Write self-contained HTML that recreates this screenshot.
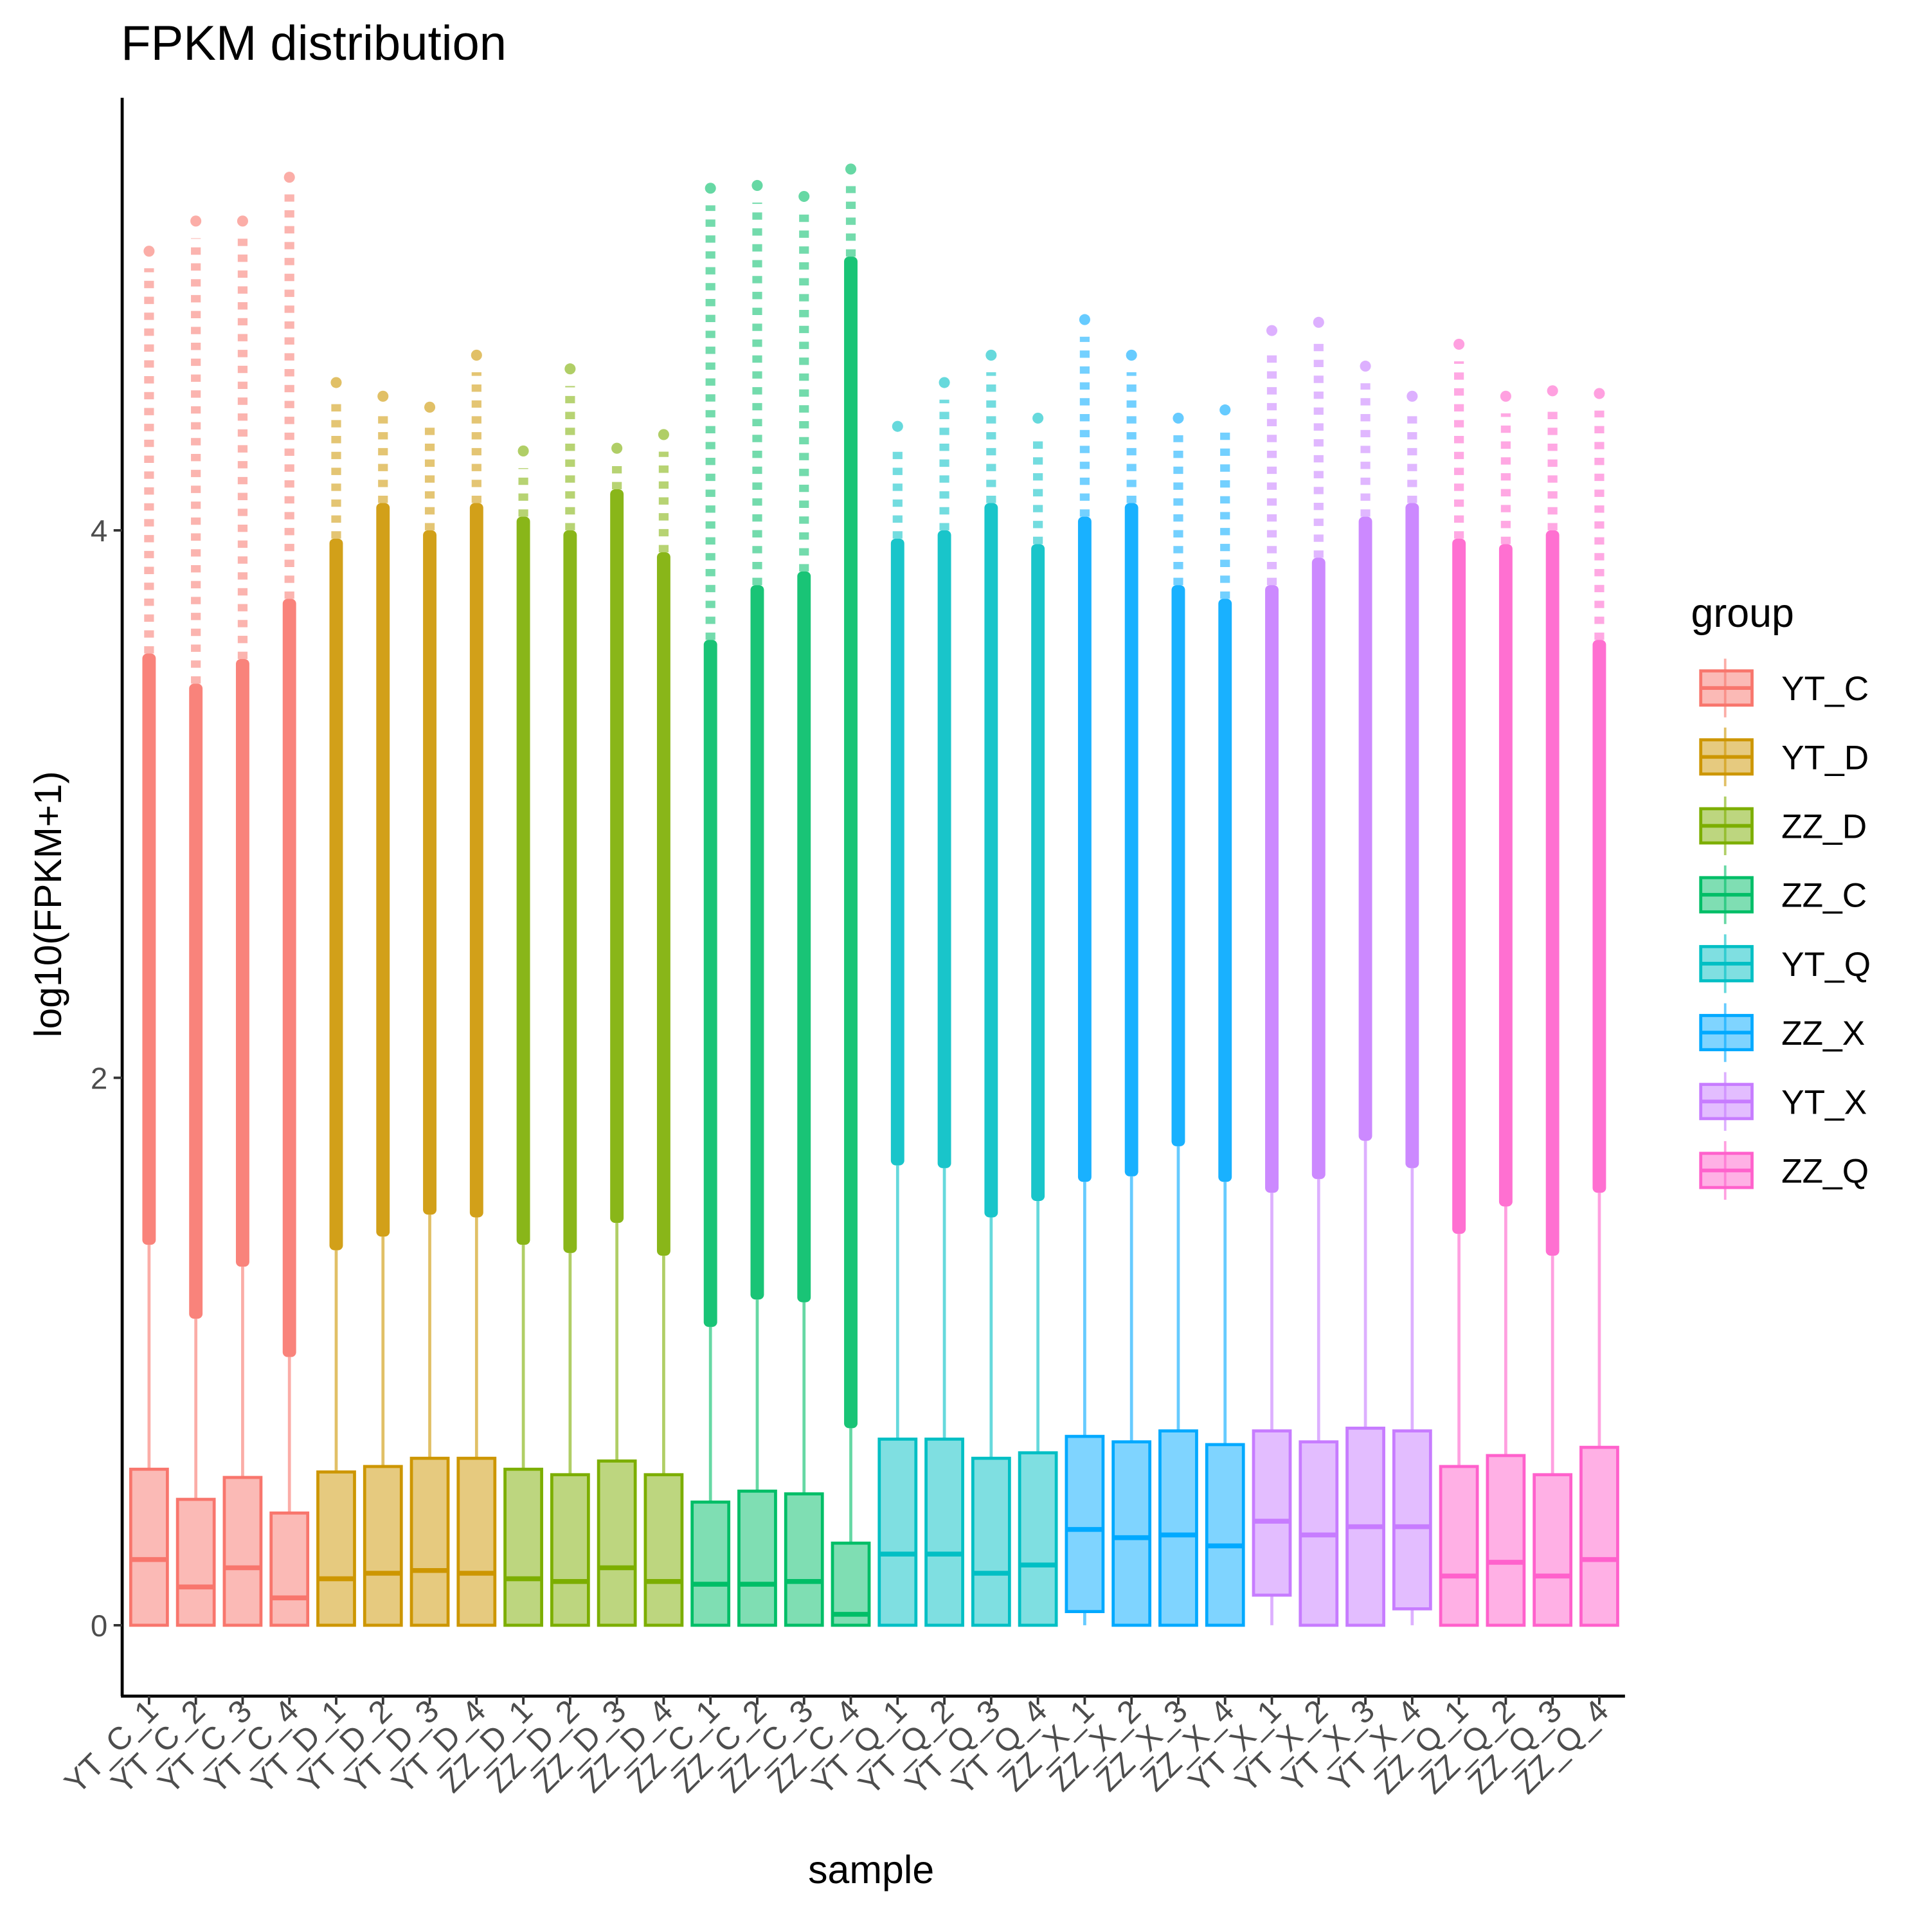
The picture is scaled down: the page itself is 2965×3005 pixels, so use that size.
<!DOCTYPE html>
<html><head><meta charset="utf-8"><style>
html,body{margin:0;padding:0;background:#fff;}
svg{display:block;font-family:"Liberation Sans",sans-serif;}
</style></head><body>
<svg id="chart" width="2965" height="3005" viewBox="0 0 1560 1581" xmlns="http://www.w3.org/2000/svg">
<rect width="1560" height="1581" fill="#fff"/>
<text x="99" y="49" font-size="40" fill="#000">FPKM distribution</text>
<g id="plot"></g>
<line x1="100" y1="80" x2="100" y2="1388" stroke="#000" stroke-width="2.5"/>
<line x1="99" y1="1388" x2="1330" y2="1388" stroke="#000" stroke-width="2.5"/>
<g id="yticks"></g>
<g id="xticks"></g>
<text transform="translate(50,740) rotate(-90)" text-anchor="middle" font-size="31" fill="#000">log10(FPKM+1)</text>
<text x="713" y="1541" text-anchor="middle" font-size="32" fill="#000">sample</text>
<g id="legend"><text x="1384" y="513" font-size="33" fill="#000">group</text></g>
</svg>
<script>
const samples=["YT_C_1","YT_C_2","YT_C_3","YT_C_4","YT_D_1","YT_D_2","YT_D_3","YT_D_4","ZZ_D_1","ZZ_D_2","ZZ_D_3","ZZ_D_4","ZZ_C_1","ZZ_C_2","ZZ_C_3","ZZ_C_4","YT_Q_1","YT_Q_2","YT_Q_3","YT_Q_4","ZZ_X_1","ZZ_X_2","ZZ_X_3","ZZ_X_4","YT_X_1","YT_X_2","YT_X_3","YT_X_4","ZZ_Q_1","ZZ_Q_2","ZZ_Q_3","ZZ_Q_4"];
const groups=["YT_C","YT_D","ZZ_D","ZZ_C","YT_Q","ZZ_X","YT_X","ZZ_Q"];
const groupColors=["#F8766D","#CD9600","#7CAE00","#00BE67","#00BFC4","#00A9FF","#C77CFF","#FF61CC"];
const q1=[0,0,0,0,0,0,0,0,0,0,0,0,0,0,0,0,0,0,0,0,0.05,0,0,0,0.11,0,0,0.06,0,0,0,0];
const median=[0.24,0.14,0.21,0.10,0.17,0.19,0.20,0.19,0.17,0.16,0.21,0.16,0.15,0.15,0.16,0.04,0.26,0.26,0.19,0.22,0.35,0.32,0.33,0.29,0.38,0.33,0.36,0.36,0.18,0.23,0.18,0.24];
const q3=[0.57,0.46,0.54,0.41,0.56,0.58,0.61,0.61,0.57,0.55,0.60,0.55,0.45,0.49,0.48,0.30,0.68,0.68,0.61,0.63,0.69,0.67,0.71,0.66,0.71,0.67,0.72,0.71,0.58,0.62,0.55,0.65];
const whiskerTop=[1.39,1.12,1.31,0.98,1.37,1.42,1.50,1.49,1.39,1.36,1.47,1.35,1.09,1.19,1.18,0.72,1.68,1.67,1.49,1.55,1.62,1.64,1.75,1.62,1.58,1.63,1.77,1.67,1.43,1.53,1.35,1.58];
const denseTop=[3.55,3.44,3.53,3.75,3.97,4.10,4.00,4.10,4.05,4.00,4.15,3.92,3.60,3.80,3.85,5.00,3.97,4.00,4.10,3.95,4.05,4.10,3.80,3.75,3.80,3.90,4.05,4.10,3.97,3.95,4.00,3.60];
const maxOutlier=[5.02,5.13,5.13,5.29,4.54,4.49,4.45,4.64,4.29,4.59,4.30,4.35,5.25,5.26,5.22,5.32,4.38,4.54,4.64,4.41,4.77,4.64,4.41,4.44,4.73,4.76,4.60,4.49,4.68,4.49,4.51,4.50];
const yTicks=[0,2,4];
const NS="http://www.w3.org/2000/svg";
const x0=122,x1=1309;
function xs(i){return x0+i*(x1-x0)/(samples.length-1);}
function ys(v){return 1330-v*224;}
function mk(tag,attrs,parent){const e=document.createElementNS(NS,tag);for(const k in attrs)e.setAttribute(k,attrs[k]);parent.appendChild(e);return e;}
const plot=document.getElementById('plot');
samples.forEach((s,i)=>{
  const c=groupColors[Math.floor(i/4)];const x=xs(i);const w=30;
  const g=mk('g',{},plot);
  
  
  const sp=mk('line',{x1:x,x2:x,y1:ys(denseTop[i]),y2:ys(maxOutlier[i])+14,stroke:c,'stroke-width':8,'stroke-dasharray':'6 7','stroke-opacity':0.55},g);
  
  
  const mx=mk('circle',{cx:x,cy:ys(maxOutlier[i]),r:4.5,fill:c,'fill-opacity':0.6},g);
  
  
  const dn=mk('rect',{x:x-5.5,y:ys(denseTop[i]),width:11,height:ys(whiskerTop[i])-ys(denseTop[i]),fill:c,'fill-opacity':0.9,rx:4},g);
  
  
  const wh=mk('line',{x1:x,x2:x,y1:ys(whiskerTop[i]),y2:ys(q3[i]),stroke:c,'stroke-width':2.5,'stroke-opacity':0.6},g);
  
  
  if(q1[i]>0){const lw=mk('line',{x1:x,x2:x,y1:ys(q1[i]),y2:ys(0),stroke:c,'stroke-width':2.5,'stroke-opacity':0.6},g);
    
    }
  const bx=mk('rect',{x:x-w/2,y:ys(q3[i]),width:w,height:ys(q1[i])-ys(q3[i]),fill:c,'fill-opacity':0.5,stroke:c,'stroke-width':2.5},g);
  
  
  const md=mk('line',{x1:x-w/2,x2:x+w/2,y1:ys(median[i]),y2:ys(median[i]),stroke:c,'stroke-width':4},g);
  
  
});
const yt=document.getElementById('yticks');
yTicks.forEach(v=>{
  const l=mk('line',{x1:93,x2:100,y1:ys(v),y2:ys(v),stroke:'#333','stroke-width':2},yt);
  
  
  const t=mk('text',{x:88,y:ys(v)+9,'text-anchor':'end','font-size':25,fill:'#4d4d4d'},yt);
  t.textContent=v;
  
  
});
const xt=document.getElementById('xticks');
samples.forEach((s,i)=>{
  const x=xs(i);
  const l=mk('line',{x1:x,x2:x,y1:1388,y2:1395,stroke:'#333','stroke-width':2},xt);
  
  
  const t=mk('text',{transform:`translate(${x+9},${1402}) rotate(-45)`,'text-anchor':'end','font-size':26,fill:'#4d4d4d'},xt);
  t.textContent=s;
  
  
});
const lg=document.getElementById('legend');
groups.forEach((gname,k)=>{
  const y=563+k*56.4;const c=groupColors[k];
  const g=mk('g',{},lg);
  
  
  mk('line',{x1:1412,x2:1412,y1:y-24,y2:y+24,stroke:c,'stroke-width':2,'stroke-opacity':0.6},g);
  mk('rect',{x:1392,y:y-14,width:42,height:28,fill:c,'fill-opacity':0.5,stroke:c,'stroke-width':2.5},g);
  mk('line',{x1:1392,x2:1434,y1:y,y2:y,stroke:c,'stroke-width':3},g);
  const t=mk('text',{x:1458,y:y+10,'font-size':28,fill:'#000'},g);
  t.textContent=gname;
});
</script>
</body></html>
